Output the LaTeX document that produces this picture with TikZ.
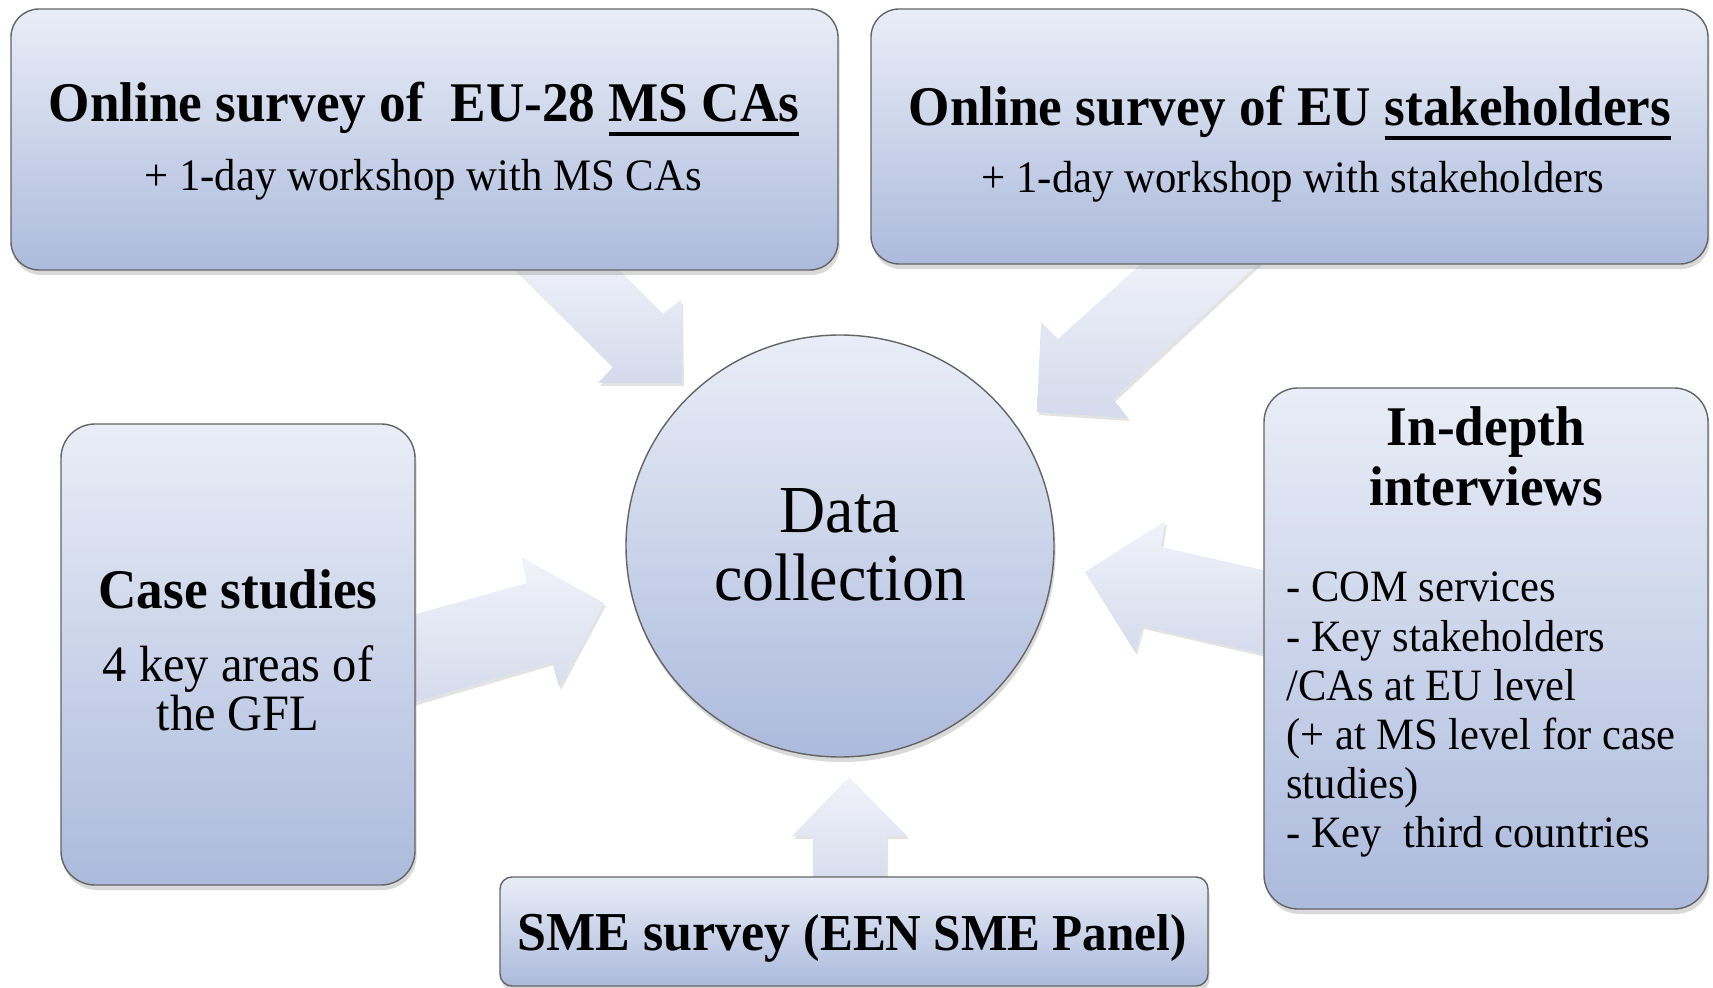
\documentclass[tikz,border=0pt]{standalone}
\usepackage{fontspec}
\setmainfont{Liberation Serif}[FakeStretch=0.95]
\usetikzlibrary{shapes.geometric,shadows}
\definecolor{boxtop}{RGB}{233,237,247}
\definecolor{boxbot}{RGB}{172,186,220}
\definecolor{arrtop}{RGB}{241,243,250}
\definecolor{arrbot}{RGB}{212,218,236}
\definecolor{edgegray}{RGB}{100,100,100}
\newsavebox\ulbox
\newcommand\ulx[1]{\sbox\ulbox{#1}\rlap{\rule[-6.8pt]{\wd\ulbox}{1.7pt}}\usebox\ulbox}
\tikzset{
  panel/.style={draw=edgegray, line width=0.7pt, top color=boxtop, bottom color=boxbot,
    drop shadow={shadow xshift=0.8pt, shadow yshift=-2.5pt, opacity=0.3}, inner sep=0pt},
  blockarrow/.style={top color=arrtop, bottom color=arrbot,
    drop shadow={shadow xshift=1pt, shadow yshift=-1.5pt, opacity=0.22}},
  txt/.style={inner sep=0pt, anchor=base},
  btxt/.style={inner sep=0pt, anchor=base west, font=\fontsize{22.4}{24}\selectfont},
  boldbig/.style={font=\fontsize{28}{30}\selectfont\bfseries},
  sub/.style={font=\fontsize{22.5}{26}\selectfont},
}
\begin{document}
\begin{tikzpicture}[x=0.5pt,y=-0.5pt]
\useasboundingbox (0,0) rectangle (1713,988);

% block arrows (drawn beneath the panels)
\path[blockarrow] (496,250) -- (613,367) -- (598,383) -- (682,383) -- (681,300) -- (663,314) -- (599,250) -- cycle;
\path[blockarrow] (1162,245) -- (1058,339) -- (1041,322) -- (1037,412) -- (1128,418) -- (1113,399) -- (1278,245) -- cycle;
\path[blockarrow] (395,620) -- (527,583) -- (521,557) -- (604,603) -- (559,687) -- (552,662) -- (395,708) -- cycle;
\path[blockarrow] (1285,575) -- (1161,547) -- (1165,521) -- (1085,572) -- (1135,652) -- (1142,626) -- (1285,659) -- cycle;
\path[blockarrow] (813,895) -- (813,836) -- (792,836) -- (849,777) -- (907,836) -- (886,836) -- (886,895) -- cycle;

% panels
\node[panel, rounded corners=14pt, minimum width=413.5pt, minimum height=130.5pt] (tl) at (424.5,139.5) {};
\node[panel, rounded corners=14pt, minimum width=418.5pt, minimum height=127.5pt] (tr) at (1289.5,136.5) {};
\node[panel, rounded corners=17pt, minimum width=177pt, minimum height=230.5pt] (cs) at (238,654.5) {};
\node[panel, rounded corners=17pt, minimum width=222pt, minimum height=260.5pt] (id) at (1486,648.5) {};
\node[panel, rounded corners=6pt, minimum width=354pt, minimum height=54.5pt] (sme) at (854,931.5) {};
\node[panel, ellipse, minimum width=214pt, minimum height=211pt] (dc) at (840,546) {};

% texts
\node[txt, boldbig] (tlt) at (424,122) {Online survey of\ \ EU-28 \ulx{MS CAs}};
\node[txt, sub] (tls) at (423,191) {+ 1-day workshop with MS CAs};
\node[txt, boldbig] (trt) at (1290,126) {Online survey of EU \ulx{stakeholders}};
\node[txt, sub] (trs) at (1293,193) {+ 1-day workshop with stakeholders};

\node[txt, boldbig] (cst) at (238,609) {Case studies};
\node[txt, font=\fontsize{25.5}{27}\selectfont] (cs1) at (238,681) {4 key areas of};
\node[txt, font=\fontsize{25.5}{27}\selectfont] (cs2) at (238,730) {the GFL};

\node[txt, font=\fontsize{33.6}{36}\selectfont] (dc1) at (840,533) {Data};
\node[txt, font=\fontsize{33.6}{36}\selectfont] (dc2) at (840,601) {collection};

\node[txt, boldbig] (id1) at (1486,446) {In-depth};
\node[txt, boldbig] (id2) at (1486,506) {interviews};
\node[btxt] (b1) at (1286,602) {- COM services};
\node[btxt] (b2) at (1286,651) {- Key stakeholders};
\node[btxt] (b3) at (1286,700) {/CAs at EU level};
\node[btxt] (b4) at (1286,749) {(+ at MS level for case};
\node[btxt] (b5) at (1286,798) {studies)};
\node[btxt] (b6) at (1286,847) {- Key\ \ third countries};

\node[txt] (smet) at (852,950) {\fontsize{27.4}{30}\selectfont\bfseries SME survey {\fontsize{25.9}{28}\selectfont (EEN SME Panel)}};
\end{tikzpicture}
\end{document}
